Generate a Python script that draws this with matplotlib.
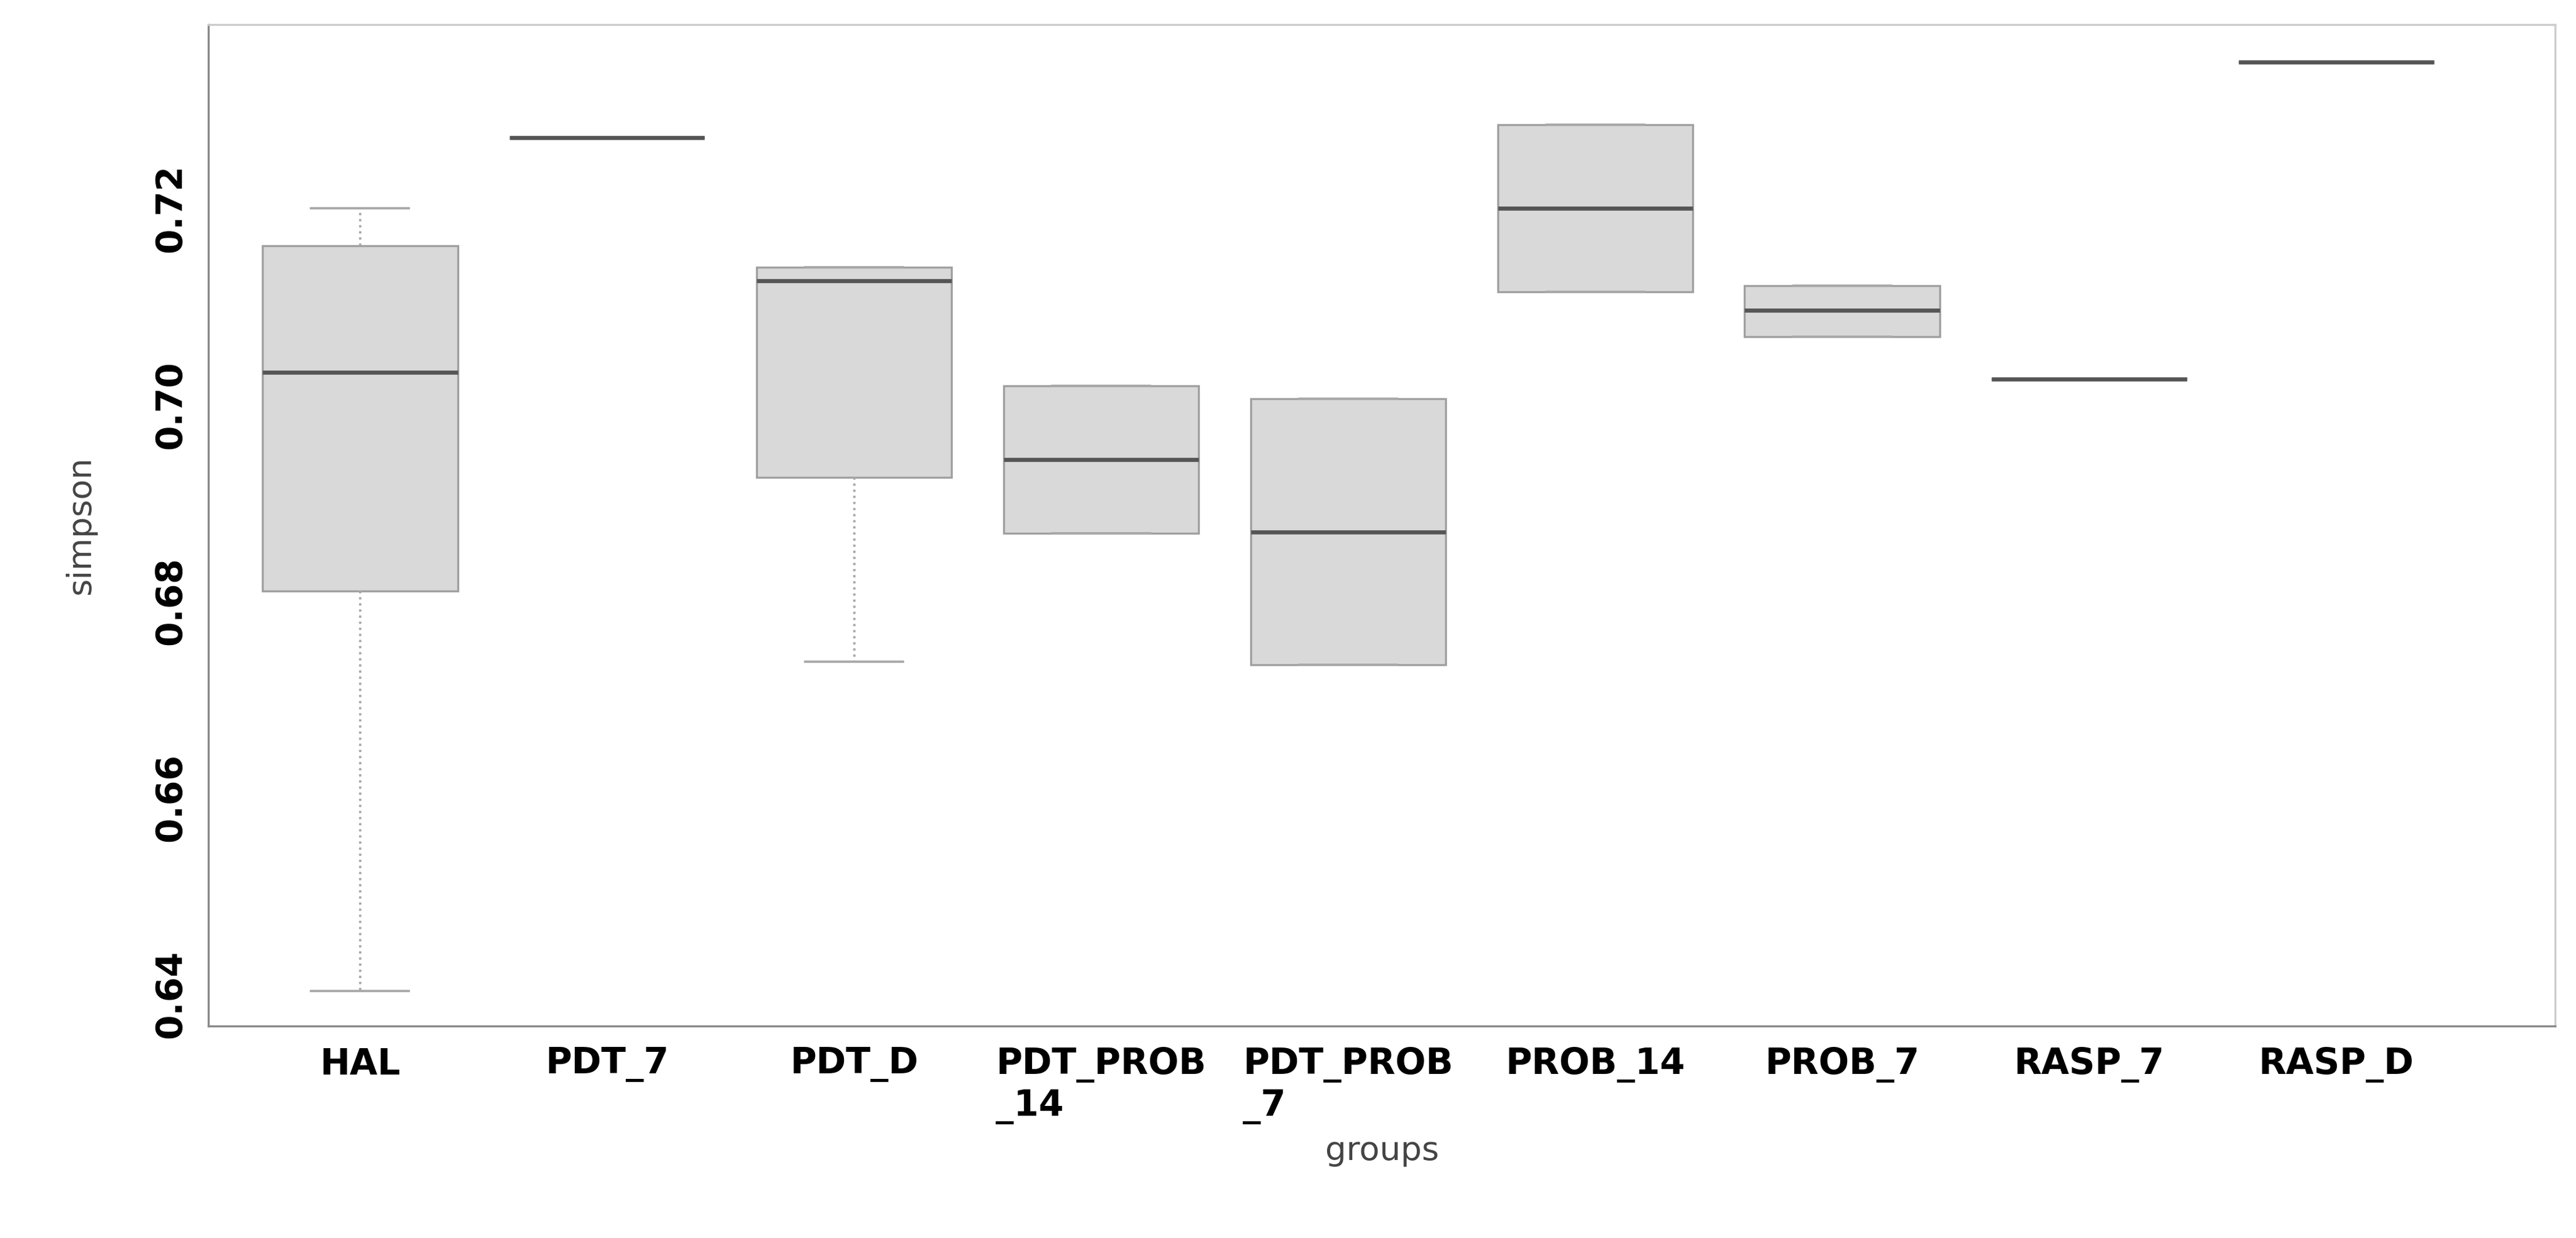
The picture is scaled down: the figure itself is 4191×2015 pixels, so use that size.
import matplotlib
matplotlib.use("Agg")
import matplotlib.pyplot as plt

groups = ["HAL", "PDT_7", "PDT_D", "PDT_PROB\n_14", "PDT_PROB\n_7", "PROB_14", "PROB_7", "RASP_7", "RASP_D"]
whislo = [0.6403, 0.7272, 0.6738, 0.6869, 0.6735, 0.7115, 0.7069, 0.7026, 0.7349]
q1     = [0.6810, 0.7272, 0.6926, 0.6869, 0.6735, 0.7115, 0.7069, 0.7026, 0.7349]
med    = [0.7033, 0.7272, 0.7126, 0.6944, 0.6870, 0.7200, 0.7096, 0.7026, 0.7349]
q3     = [0.7162, 0.7272, 0.7140, 0.7019, 0.7006, 0.7285, 0.7121, 0.7026, 0.7349]
whishi = [0.7200, 0.7272, 0.7140, 0.7019, 0.7006, 0.7285, 0.7121, 0.7026, 0.7349]

stats = [dict(label=g, whislo=a, q1=b, med=c, q3=d, whishi=e)
         for g, a, b, c, d, e in zip(groups, whislo, q1, med, q3, whishi)]

fig = plt.figure(figsize=(13.97, 6.717), dpi=300)
ax = fig.add_axes([0.081, 0.171, 0.911, 0.809])
ax.bxp(stats, widths=0.79, showfliers=False, patch_artist=True,
       boxprops=dict(facecolor="#d9d9d9", edgecolor="#a0a0a0", linewidth=0.8),
       medianprops=dict(color="#555555", linewidth=1.6),
       whiskerprops=dict(color="#a8a8a8", linestyle=":", linewidth=0.9),
       capprops=dict(color="#a8a8a8", linewidth=0.9))

ax.set_ylim(0.6367, 0.7387)
ax.set_xlim(0.387, 9.887)
ax.set_yticks([0.64, 0.66, 0.68, 0.70, 0.72])
ax.set_yticklabels(["0.64", "0.66", "0.68", "0.70", "0.72"], rotation=90, va="center",
                   fontsize=14, fontweight="bold")
ax.set_xticklabels(groups, fontsize=14, fontweight="bold", ha="center", va="top")
for lbl in ax.get_xticklabels():
    lbl.set_multialignment("left")
ax.tick_params(length=0, pad=8)
for s in ax.spines.values():
    s.set_color("#cccccc")
ax.spines["left"].set_color("#888888")
ax.spines["bottom"].set_color("#888888")
ax.set_xlabel("groups", fontsize=13, color="#444444", labelpad=4)
ax.set_ylabel("simpson", fontsize=13, color="#444444", labelpad=22)
fig.savefig("out.png")
